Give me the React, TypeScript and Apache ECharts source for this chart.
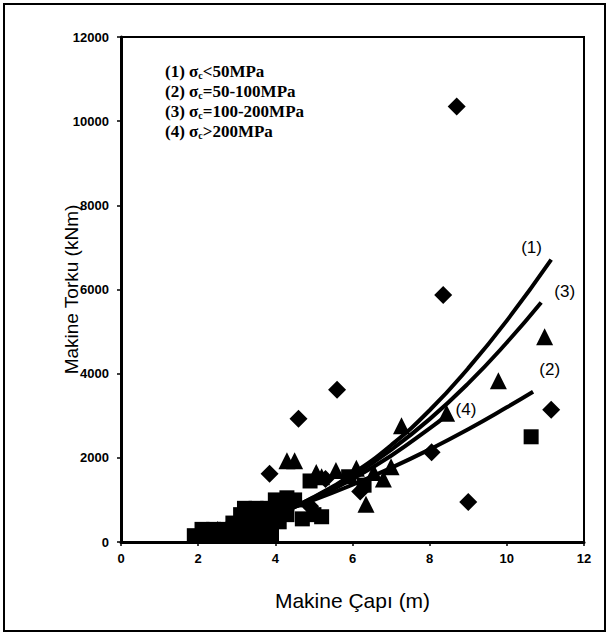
import React, { useEffect, useRef } from "react";
import * as echarts from "echarts";

// ---- data ----
const xTicks = [0, 2, 4, 6, 8, 10, 12];
const yTicks = [0, 2000, 4000, 6000, 8000, 10000, 12000];

const diamonds: number[][] = [
  [8.7, 10350], [8.35, 5870], [5.6, 3620], [4.6, 2930], [3.85, 1620],
  [11.15, 3140], [9.0, 950], [8.05, 2130], [2.1, 200], [2.4, 250],
  [2.8, 350], [3.3, 500], [3.6, 700], [4.1, 900], [5.3, 1500],
  [6.2, 1200], [4.9, 850],
];

const triangles: number[][] = [
  [10.98, 4880], [9.78, 3830], [4.3, 1930], [4.5, 1930], [7.27, 2760],
  [8.44, 3060], [6.35, 900], [7.0, 1790], [5.06, 1650], [5.57, 1700],
  [6.1, 1750], [6.55, 1650], [2.5, 300], [3.2, 600], [3.9, 800],
  [4.2, 950], [5.2, 1550], [6.8, 1500],
];

const squares: number[][] = [
  [10.63, 2500],
  [1.9, 150], [2.2, 150], [2.5, 150], [2.8, 150], [3.1, 150], [3.4, 150], [3.7, 150], [3.9, 150],
  [2.1, 300], [2.4, 300], [2.7, 300], [3.0, 300], [3.3, 300], [3.6, 300], [3.85, 300],
  [2.9, 450], [3.2, 480], [3.5, 480], [3.8, 480], [4.1, 480],
  [3.1, 650], [3.4, 650], [3.7, 650], [4.0, 650], [4.3, 650],
  [3.2, 800], [3.5, 800], [3.8, 800], [4.1, 800],
  [4.0, 1000], [4.3, 1050], [4.5, 1000],
  [4.7, 550], [5.0, 650], [5.2, 600],
  [4.9, 1450], [5.9, 1550], [6.3, 1350],
];

const curve1: number[][] = [
  [2, 130], [3, 330], [4, 640], [5, 1070], [6, 1620], [7, 2300],
  [8, 3130], [9, 4130], [10, 5260], [11.15, 6710],
];
const curve2: number[][] = [
  [2, 220], [3, 430], [4, 690], [5, 1000], [6, 1360], [7, 1760],
  [8, 2200], [9, 2680], [10, 3200], [10.68, 3570],
];
const curve3: number[][] = [
  [2, 150], [3, 350], [4, 650], [5, 1060], [6, 1570], [7, 2190],
  [8, 2920], [9, 3770], [10, 4740], [10.89, 5690],
];
const curve4: number[][] = [
  [3, 350], [4, 650], [5, 1030], [6, 1500], [7, 2050], [8, 2700], [8.4, 2980],
];

const curveLabels = ["(1)", "(2)", "(3)", "(4)"];
const curveLabelPos: number[][] = [
  [10.64, 6990], [11.11, 4090], [11.5, 5950], [8.94, 3140],
];

const legendIds = ["(1)", "(2)", "(3)", "(4)"];
const legendRanges = ["<50MPa", "=50-100MPa", "=100-200MPa", ">200MPa"];

export default function App() {
  const ref = useRef<HTMLDivElement>(null);

  useEffect(() => {
    if (!ref.current) return;
    const chart = echarts.init(ref.current, undefined, { renderer: "svg" });

    const curveSeries = [curve1, curve2, curve3, curve4].map((c) => ({
      type: "line",
      data: c,
      smooth: true,
      symbol: "none",
      lineStyle: { color: "#000", width: 4, opacity: 1 },
      z: 3,
    }));

    const marker = (data: number[][], symbol: string, size: number) => ({
      type: "scatter",
      data,
      symbol,
      symbolSize: size,
      itemStyle: { color: "#000", opacity: 1 },
      z: 4,
    });

    const legendText = legendIds
      .map((id, i) => `{t|${id} σ}{s|c}{t|${legendRanges[i]}}`)
      .join("\n");

    chart.setOption({
      animation: false,
      backgroundColor: "#fff",
      grid: {
        left: 121,
        right: 25,
        top: 37,
        bottom: 96,
        show: true,
        borderColor: "#000",
        borderWidth: 2,
      },
      xAxis: {
        type: "value",
        min: xTicks[0],
        max: xTicks[xTicks.length - 1],
        interval: 2,
        name: "Makine Çapı (m)",
        nameLocation: "middle",
        nameGap: 48,
        nameMoveOverlap: false,
        nameTextStyle: { fontFamily: "Liberation Sans", fontSize: 21, color: "#000" },
        axisLine: { lineStyle: { color: "#000", width: 3 } },
        axisTick: { inside: false, length: 4, lineStyle: { color: "#000", width: 1.5 } },
        axisLabel: {
          margin: 10,
          fontFamily: "Liberation Sans",
          fontWeight: "bold",
          fontSize: 13,
          color: "#000",
          formatter: (v: number) => String(v),
        },
        splitLine: { show: false },
      },
      yAxis: {
        type: "value",
        min: yTicks[0],
        max: yTicks[yTicks.length - 1],
        interval: 2000,
        name: "Makine Torku (kNm)",
        nameLocation: "middle",
        nameGap: 40,
        nameMoveOverlap: false,
        nameTextStyle: { fontFamily: "Liberation Sans", fontSize: 19, color: "#000" },
        axisLine: { lineStyle: { color: "#000", width: 3 } },
        axisTick: { inside: false, length: 4, lineStyle: { color: "#000", width: 1.5 } },
        axisLabel: {
          margin: 12,
          fontFamily: "Liberation Sans",
          fontWeight: "bold",
          fontSize: 13,
          color: "#000",
          formatter: (v: number) => String(v),
        },
        splitLine: { show: false },
      },
      graphic: [
        {
          type: "rect",
          shape: { x: 4, y: 4, width: 601, height: 627 },
          style: { fill: "none", stroke: "#000", lineWidth: 2 },
          silent: true,
        },
        {
          type: "text",
          left: 165,
          top: 62,
          style: {
            text: legendText,
            rich: {
              t: {
                fontFamily: "Liberation Serif",
                fontWeight: "bold",
                fontSize: 17,
                lineHeight: 20,
                fill: "#000",
              },
              s: {
                fontFamily: "Liberation Serif",
                fontWeight: "bold",
                fontSize: 10,
                lineHeight: 20,
                padding: [8, 0, 0, 0],
                fill: "#000",
              },
            },
          },
        },
      ],
      series: [
        ...curveSeries,
        marker(squares, "rect", 15),
        marker(triangles, "triangle", 17),
        marker(diamonds, "diamond", 18),
        {
          type: "scatter",
          data: curveLabelPos.map((p, i) => ({ value: p, name: curveLabels[i] })),
          symbolSize: 1,
          itemStyle: { color: "#fff", opacity: 0 },
          label: {
            show: true,
            position: "inside",
            formatter: (p: any) => p.name,
            fontFamily: "Liberation Sans",
            fontSize: 17,
            color: "#000",
            opacity: 1,
          },
          z: 5,
        },
      ],
    });

    return () => chart.dispose();
  }, []);

  return (
    <div
      ref={ref}
      style={{ position: "fixed", left: 0, top: 0, width: 609, height: 638, background: "#fff" }}
    />
  );
}
